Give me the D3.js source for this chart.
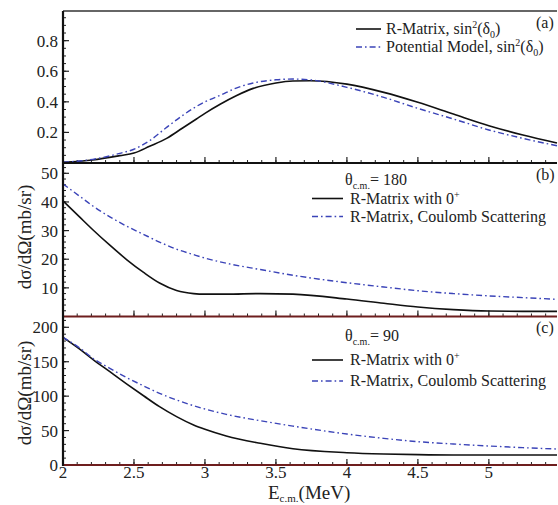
<!DOCTYPE html>
<html><head><meta charset="utf-8">
<script src="https://cdn.jsdelivr.net/npm/d3@7"></script>
<style>body{margin:0;background:#fff}svg{display:block}</style>
</head><body>
<script>
// ---- data ----
const energiesA = [2.0, 2.21, 2.40, 2.5, 2.61, 2.73, 2.84, 2.94, 3.0, 3.11, 3.22, 3.34, 3.5, 3.62, 3.74, 4.0, 4.26, 4.5, 4.75, 5.0, 5.24, 5.48];
const rMatrixSin2 = [0.005, 0.02, 0.048, 0.065, 0.109, 0.161, 0.227, 0.288, 0.325, 0.386, 0.44, 0.488, 0.523, 0.536, 0.538, 0.516, 0.462, 0.397, 0.32, 0.244, 0.183, 0.131];
const potentialSin2 = [0.005, 0.024, 0.063, 0.09, 0.146, 0.233, 0.309, 0.37, 0.40, 0.444, 0.49, 0.523, 0.544, 0.549, 0.544, 0.495, 0.429, 0.357, 0.288, 0.216, 0.161, 0.113];

const energiesBC = [2.0, 2.12, 2.21, 2.33, 2.45, 2.57, 2.68, 2.8, 2.92, 3.0, 3.15, 3.39, 3.62, 4.0, 4.26, 4.5, 4.75, 5.0, 5.24, 5.48];
const r180With0 = [40.4, 34.6, 30.3, 24.9, 19.8, 15.3, 11.7, 9.1, 8.0, 7.8, 7.8, 8.0, 7.8, 6.1, 4.6, 3.3, 2.4, 1.9, 1.8, 1.8];
const r180Coulomb = [46.3, 41.9, 38.6, 34.8, 31.5, 28.6, 26.0, 23.5, 21.6, 20.4, 18.6, 16.4, 14.4, 11.8, 10.3, 9.0, 8.0, 7.2, 6.6, 6.0];
const r90With0 = [185.5, 168, 153.5, 135.5, 117.6, 100.2, 84.7, 70.2, 58.1, 51.8, 42.1, 31.5, 23.5, 17.9, 16.0, 15.0, 14.5, 14.5, 14.5, 14.5];
const r90Coulomb = [185.5, 169.5, 155, 140.4, 126.8, 114.7, 104.1, 94.4, 86.1, 81.3, 73.6, 64.3, 56.5, 45, 38.7, 33.9, 30.5, 27.6, 25.2, 23.2];

const xTicks = [2, 2.5, 3, 3.5, 4, 4.5, 5];
const ticksA = [0.2, 0.4, 0.6, 0.8];
const ticksB = [10, 20, 30, 40, 50];
const ticksC = [0, 50, 100, 150, 200];

// ---- layout ----
const W = 558, H = 505;
const L = 63, R = 557;
const FONT = "Liberation Serif";
const svg = d3.select("body").append("svg").attr("width", W).attr("height", H);
const x = d3.scaleLinear().domain([2, 5.48]).range([L, R]);

function txt(sel) { return sel.append("text").attr("font-family", FONT).attr("fill", "#222"); }

const panels = [
  {top: 11, bottom: 163, domain: [0, 0.994], ticks: ticksA, minor: 0.05, fmt: d3.format(".1f")},
  {top: 163, bottom: 316.5, domain: [0, 53.6], ticks: ticksB, minor: 2, fmt: d3.format("d")},
  {top: 316.5, bottom: 465, domain: [0, 215.7], ticks: ticksC, minor: 10, fmt: d3.format("d")}
];
panels.forEach(p => { p.y = d3.scaleLinear().domain(p.domain).range([p.bottom, p.top]); });

const solid = {stroke: "#111", width: 1.6, dash: null};
const dashdot = {stroke: "#3b44b8", width: 1.4, dash: "6,3,1.6,3"};

function drawLine(p, xs, ys, st) {
  const line = d3.line().x((d, i) => x(xs[i])).y(d => p.y(d)).curve(d3.curveMonotoneX);
  svg.append("path").datum(ys).attr("d", line).attr("fill", "none")
    .attr("stroke", st.stroke).attr("stroke-width", st.width)
    .attr("stroke-dasharray", st.dash);
}

const xMinor = d3.range(2, 5.49, 0.1);

panels.forEach((p) => {
  const g = svg.append("g");
  const minorVals = d3.range(Math.ceil(p.domain[0] / p.minor) * p.minor, p.domain[1], p.minor);
  g.selectAll(".ym").data(minorVals).enter().append("line")
    .attr("x1", L).attr("x2", L + 3).attr("y1", d => p.y(d)).attr("y2", d => p.y(d))
    .attr("stroke", "#222").attr("stroke-width", 1);
  g.selectAll(".yM").data(p.ticks).enter().append("line")
    .attr("x1", L).attr("x2", L + 6).attr("y1", d => p.y(d)).attr("y2", d => p.y(d))
    .attr("stroke", "#222").attr("stroke-width", 1.2);
  g.selectAll(".yl").data(p.ticks).enter().append("text")
    .attr("font-family", FONT).attr("fill", "#222")
    .attr("x", 58).attr("y", d => p.y(d) + 6).attr("text-anchor", "end")
    .attr("font-size", 17).text(p.fmt);
  g.selectAll(".xm").data(xMinor).enter().append("line")
    .attr("x1", d => x(d)).attr("x2", d => x(d)).attr("y1", p.bottom).attr("y2", p.bottom - 3)
    .attr("stroke", "#222").attr("stroke-width", 1);
  g.selectAll(".xM").data(xTicks).enter().append("line")
    .attr("x1", d => x(d)).attr("x2", d => x(d)).attr("y1", p.bottom).attr("y2", p.bottom - 6)
    .attr("stroke", "#222").attr("stroke-width", 1.2);
});

drawLine(panels[0], energiesA, rMatrixSin2, solid);
drawLine(panels[0], energiesA, potentialSin2, dashdot);
drawLine(panels[1], energiesBC, r180With0, solid);
drawLine(panels[1], energiesBC, r180Coulomb, dashdot);
drawLine(panels[2], energiesBC, r90With0, solid);
drawLine(panels[2], energiesBC, r90Coulomb, dashdot);

// frames
svg.append("line").attr("x1", L).attr("x2", R).attr("y1", 11).attr("y2", 11).attr("stroke", "#333").attr("stroke-width", 1.3);
svg.append("line").attr("x1", L).attr("x2", R).attr("y1", 163).attr("y2", 163).attr("stroke", "#111").attr("stroke-width", 2);
svg.append("line").attr("x1", L).attr("x2", R).attr("y1", panels[1].y(0)).attr("y2", panels[1].y(0)).attr("stroke", "#6e1e1e").attr("stroke-width", 2);
svg.append("line").attr("x1", L).attr("x2", R).attr("y1", panels[2].y(0)).attr("y2", panels[2].y(0)).attr("stroke", "#6e1e1e").attr("stroke-width", 2);
svg.append("line").attr("x1", L).attr("x2", L).attr("y1", 11).attr("y2", 466).attr("stroke", "#111").attr("stroke-width", 2.2);

svg.selectAll(".xl").data(xTicks).enter().append("text")
  .attr("font-family", FONT).attr("fill", "#222")
  .attr("x", d => x(d)).attr("y", 478).attr("text-anchor", "middle").attr("font-size", 17)
  .text(d => d);

const xt = txt(svg).attr("x", 268).attr("y", 499).attr("font-size", 19);
xt.append("tspan").text("E");
xt.append("tspan").attr("font-size", 11).attr("dy", 3).text("c.m.");
xt.append("tspan").attr("dy", -3).text("(MeV)");

[237, 393].forEach(cy => {
  txt(svg).attr("transform", `translate(31,${cy}) rotate(-90)`)
    .attr("text-anchor", "middle").attr("font-size", 19).text("dσ/dΩ(mb/sr)");
});

function sinLabel(x0, y0, prefix) {
  const tx = txt(svg).attr("x", x0).attr("y", y0).attr("font-size", 16);
  tx.append("tspan").text(prefix + ", sin");
  tx.append("tspan").attr("font-size", 10).attr("dy", -6).text("2");
  tx.append("tspan").attr("dy", 6).text("(δ");
  tx.append("tspan").attr("font-size", 10).attr("dy", 4).text("0");
  tx.append("tspan").attr("dy", -4).text(")");
}
function sample(x1, x2, yy, st) {
  svg.append("line").attr("x1", x1).attr("x2", x2).attr("y1", yy).attr("y2", yy)
    .attr("stroke", st.stroke).attr("stroke-width", st.width).attr("stroke-dasharray", st.dash);
}
sample(356, 381, 29, solid);
sinLabel(386, 33.5, "R-Matrix");
sample(356, 381, 47, dashdot);
sinLabel(386, 52, "Potential Model");
txt(svg).attr("x", 536).attr("y", 28).attr("font-size", 16).text("(a)");

function thetaLegend(yTheta, angle, y1, y2, label) {
  const t = txt(svg).attr("x", 345).attr("y", yTheta).attr("font-size", 16);
  t.append("tspan").text("θ");
  t.append("tspan").attr("font-size", 10).attr("dy", 4).text("c.m.");
  t.append("tspan").attr("dy", -4).text("= " + angle);
  sample(312, 343, y1, solid);
  const t1 = txt(svg).attr("x", 350).attr("y", y1 + 5).attr("font-size", 16);
  t1.append("tspan").text("R-Matrix with 0");
  t1.append("tspan").attr("font-size", 10).attr("dy", -6).text("+");
  sample(312, 343, y2, dashdot);
  txt(svg).attr("x", 350).attr("y", y2 + 5).attr("font-size", 16).text("R-Matrix, Coulomb Scattering");
  txt(svg).attr("x", 536).attr("y", label[1]).attr("font-size", 16).text(label[0]);
}
thetaLegend(185, "180", 198.5, 216.5, ["(b)", 180]);
thetaLegend(341, "90", 360, 381, ["(c)", 333]);
</script>
</body></html>
